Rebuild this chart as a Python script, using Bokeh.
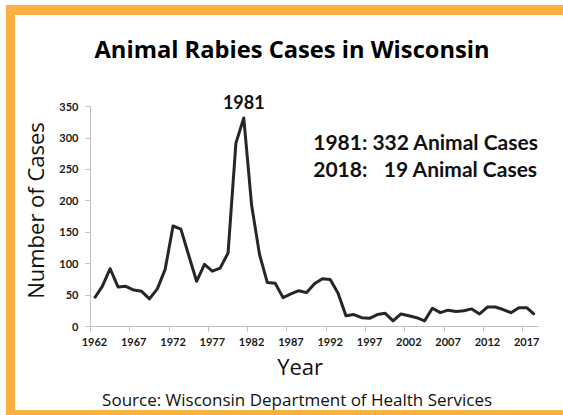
from bokeh.plotting import figure
from bokeh.models import Range1d, FixedTicker, Label, Title, ColumnDataSource
from bokeh.embed import file_html
from bokeh.resources import INLINE

years = list(range(1962, 2019))
cases = [45, 64, 92, 63, 64, 58, 56, 44, 60, 91,
         160, 155, 113, 72, 99, 88, 93, 117, 292, 332,
         193, 115, 70, 69, 46, 52, 57, 54, 68, 76,
         75, 53, 17, 19, 14, 13, 19, 21, 9, 20,
         17, 14, 9, 29, 22, 26, 24, 25, 28, 20,
         31, 31, 27, 22, 30, 30, 19]
x_tick_years = list(range(1962, 2018, 5))
y_ticks = [0, 50, 100, 150, 200, 250, 300, 350]

title_text = "Animal Rabies Cases in Wisconsin"
peak_year = 1981
peak_text = "1981"
note1 = "1981: 332 Animal Cases"
note2a = "2018:"
note2b = "19 Animal Cases"
x_label = "Year"
y_label = "Number of Cases"
source_text = "Source: Wisconsin Department of Health Services"

W, H = 563, 415
ORANGE = "#FAB042"
p = figure(width=W, height=H, output_backend="svg", toolbar_location=None,
           x_range=Range1d(years[0] - 0.5, years[-1] + 0.5),
           y_range=Range1d(0, 369.4),
           min_border_left=90, min_border_right=25, min_border_top=93, min_border_bottom=88)
p.outline_line_color = None
p.grid.visible = False
p.background_fill_color = "white"
p.border_fill_alpha = 0
p.styles = {
    "background-color": "white",
    "box-shadow": f"inset 6px 5px 0 0 white, inset 15px 15px 0 0 {ORANGE}, inset 0 -5px 0 0 {ORANGE}",
}

src = ColumnDataSource(dict(year=years, cases=cases))
p.line("year", "cases", source=src, line_color="#262626", line_width=3, line_join="round")

AX = "#BFBFBF"
xa = p.xaxis[0]
xa.ticker = FixedTicker(ticks=x_tick_years, minor_ticks=[y - 0.5 for y in x_tick_years])
xa.axis_line_color = AX
xa.major_tick_line_color = None
xa.minor_tick_line_color = AX
xa.minor_tick_in = 0
xa.minor_tick_out = 5
xa.major_label_standoff = 5
xa.major_label_text_font = "Lato"
xa.major_label_text_font_style = "bold"
xa.major_label_text_font_size = "11px"
xa.major_label_text_color = "#1a1a1a"

ya = p.yaxis[0]
ya.ticker = FixedTicker(ticks=y_ticks)
ya.bounds = (0, 350)
ya.axis_line_color = AX
ya.major_tick_line_color = AX
ya.major_tick_in = 0
ya.major_tick_out = 5
ya.minor_tick_line_color = None
ya.major_label_standoff = 7
ya.major_label_text_font = "Lato"
ya.major_label_text_font_style = "bold"
ya.major_label_text_font_size = "11px"
ya.major_label_text_color = "#1a1a1a"
ya.axis_label = y_label
ya.axis_label_text_font = "Open Sans"
ya.axis_label_text_font_style = "normal"
ya.axis_label_text_font_size = "22px"
ya.axis_label_text_color = "#111111"
ya.axis_label_standoff = 6

p.title.text = title_text
p.title.align = "left"
p.title.offset = 4
p.title.text_font = "Open Sans"
p.title.text_font_style = "bold"
p.title.text_font_size = "23.7px"
p.title.text_color = "#000000"
p.title.standoff = 60

p.add_layout(Title(text=x_label, align="left", offset=186.7, text_font="Open Sans",
                   text_font_style="normal", text_font_size="22px", text_color="#111111",
                   standoff=0), "below")
p.add_layout(Title(text=source_text, align="left", offset=11.6, text_font="Open Sans",
                   text_font_style="normal", text_font_size="17px", text_color="#111111",
                   standoff=10), "below")

def lab(text, x, y, size, align="left", x_units="canvas"):
    p.add_layout(Label(x=x, y=y, x_units=x_units, y_units="canvas", text=text,
                       text_font="Lato", text_font_style="bold", text_font_size=size,
                       text_color="#111111", text_align=align, text_baseline="middle"))

lab(peak_text, peak_year, 101, "18px", align="center", x_units="data")
lab(note1, 312.7, 140.8, "21px")
lab(note2a, 312.7, 167.5, "21px")
lab(note2b, 537.3, 167.5, "21px", align="right")

open("out.html", "w").write(file_html(p, INLINE))
